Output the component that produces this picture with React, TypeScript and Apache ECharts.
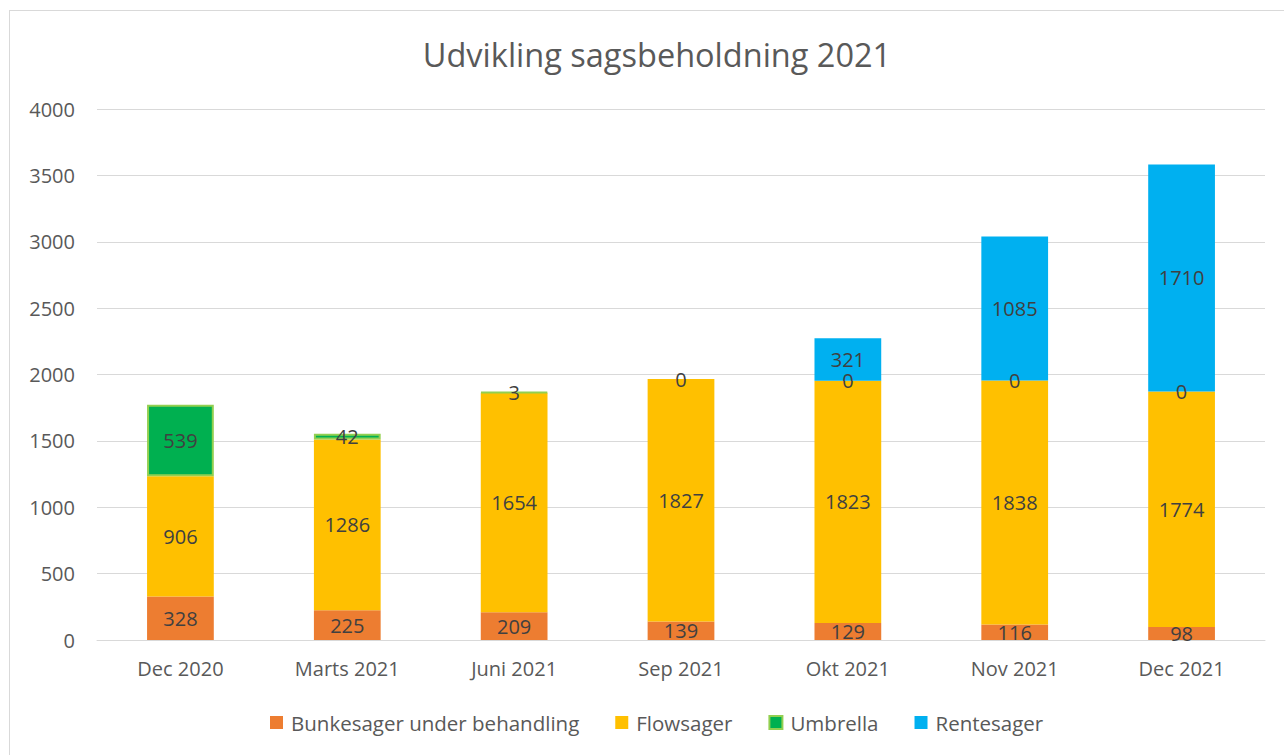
import React, { useEffect, useRef } from "react";
import * as echarts from "echarts";

const categories = ["Dec 2020", "Marts 2021", "Juni 2021", "Sep 2021", "Okt 2021", "Nov 2021", "Dec 2021"];
const bunkesager = [328, 225, 209, 139, 129, 116, 98];
const flowsager = [906, 1286, 1654, 1827, 1823, 1838, 1774];
const umbrella = [539, 42, 3, 0, 0, 0, 0];
const rentesager: (number | null)[] = [null, null, null, null, 321, 1085, 1710];
const yTicks = { min: 0, max: 4000, interval: 500 };

const FONT = "'Open Sans', sans-serif";

export default function App() {
  const ref = useRef<HTMLDivElement>(null);
  useEffect(() => {
    if (!ref.current) return;
    const chart = echarts.init(ref.current, null, { renderer: "svg" });
    const label = {
      show: true,
      position: "inside",
      color: "#404040",
      fontSize: 20,
      fontFamily: FONT,
    };
    const mk = (name: string, data: any[], color: string, extra: any = {}) => ({
      name,
      type: "bar",
      stack: "total",
      data,
      barWidth: "40%",
      itemStyle: { color, ...extra },
      label,
      emphasis: { disabled: true },
    });
    const umbrellaData = umbrella.map((v) =>
      v === 0 ? { value: v, itemStyle: { borderWidth: 0 } } : v
    );
    chart.setOption({
      animation: false,
      title: {
        text: "Udvikling sagsbeholdning 2021",
        left: 652,
        top: 33,
        textAlign: "center",
        textStyle: { fontFamily: FONT, fontSize: 32.5, fontWeight: "normal", color: "#595959" },
      },
      legend: {
        bottom: 17,
        left: 265,
        icon: "rect",
        itemWidth: 13,
        itemHeight: 13,
        itemGap: 36,
        textStyle: { fontFamily: FONT, fontSize: 20.5, color: "#595959", padding: [0, 0, 0, 3] },
      },
      grid: { left: 97, right: 19, top: 109, bottom: 115, containLabel: false },
      xAxis: {
        type: "category",
        data: categories,
        axisLine: { lineStyle: { color: "#d9d9d9", width: 1 } },
        axisTick: { show: false },
        axisLabel: { fontFamily: FONT, fontSize: 20, color: "#595959", margin: 18 },
      },
      yAxis: {
        type: "value",
        min: yTicks.min,
        max: yTicks.max,
        interval: yTicks.interval,
        axisLine: { show: false },
        axisTick: { show: false },
        splitLine: { lineStyle: { color: "#d9d9d9", width: 1 } },
        axisLabel: {
          fontFamily: FONT,
          fontSize: 20,
          color: "#595959",
          margin: 22,
          formatter: (v: number) => String(v),
        },
      },
      series: [
        mk("Bunkesager under behandling", bunkesager, "#ED7D31"),
        mk("Flowsager", flowsager, "#FFC000"),
        mk("Umbrella", umbrellaData, "#00B050", { borderColor: "#92D050", borderWidth: 2 }),
        mk("Rentesager", rentesager, "#00B0F0"),
      ],
    });
    return () => chart.dispose();
  }, []);
  return (
    <div style={{ position: "fixed", left: 0, top: 0, width: 1284, height: 755, background: "#fff", overflow: "hidden" }}>
      <div ref={ref} style={{ position: "absolute", left: 0, top: 0, width: 1284, height: 755 }} />
      <div
        style={{
          position: "absolute",
          left: 9,
          top: 10,
          width: 1300,
          height: 800,
          border: "1px solid #d9d9d9",
          pointerEvents: "none",
        }}
      />
    </div>
  );
}
